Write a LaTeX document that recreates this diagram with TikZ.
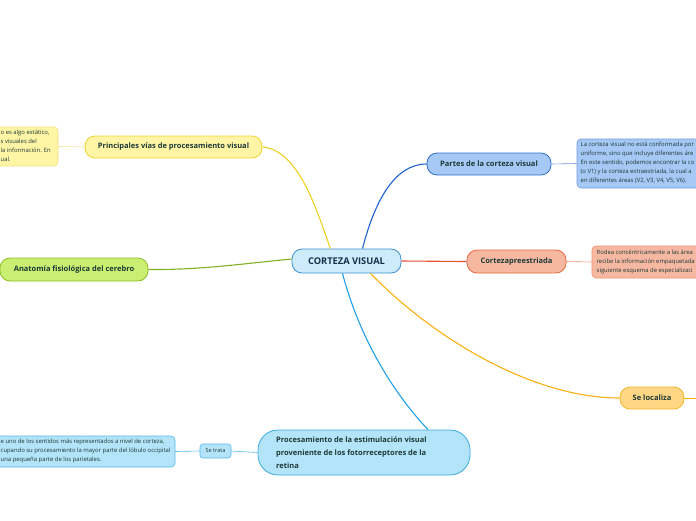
\documentclass[tikz,border=0pt]{standalone}
\usepackage{fontspec}
\setmainfont{Open Sans}
\definecolor{txt}{HTML}{1C3A36}
\definecolor{cvtxt}{HTML}{16304C}
\definecolor{cvfill}{HTML}{CDEBFA}\definecolor{cvdraw}{HTML}{3D8FD0}
\definecolor{yfill}{HTML}{FFF5A5}\definecolor{ydraw}{HTML}{EDD334}\definecolor{yline}{HTML}{F0D020}
\definecolor{bfill}{HTML}{A6C8F5}\definecolor{bdraw}{HTML}{2F6FCF}\definecolor{bline}{HTML}{2060D0}
\definecolor{rfill}{HTML}{F7B8A2}\definecolor{rdraw}{HTML}{E8683F}\definecolor{rline}{HTML}{E85030}
\definecolor{gfill}{HTML}{C9EE72}\definecolor{gdraw}{HTML}{8CBF26}\definecolor{gline}{HTML}{80B020}
\definecolor{ofill}{HTML}{FFD684}\definecolor{odraw}{HTML}{F3B52A}\definecolor{oline}{HTML}{F8B010}
\definecolor{cfill}{HTML}{B3E4F9}\definecolor{cdraw}{HTML}{3BAAE3}\definecolor{cline}{HTML}{20A0E8}
\definecolor{ynote}{HTML}{F5E080}\definecolor{bnote}{HTML}{6E9BE0}\definecolor{rnote}{HTML}{F09070}\definecolor{cnote}{HTML}{55B8EA}
\begin{document}
\begin{tikzpicture}[x=1pt,y=-1pt,
  topic/.style={draw, line width=0.8pt, rounded corners=10pt, inner sep=0pt, text=txt, font=\fontsize{7.5}{9}\selectfont\bfseries},
  note/.style={draw, line width=0.6pt, rounded corners=4pt, inner sep=0pt},
  notetext/.style={anchor=north west, align=left, inner sep=0pt, text=txt, font=\fontsize{5.9}{9}\selectfont},
  conn/.style={line width=1.1pt},
  thin/.style={line width=0.6pt}]
\useasboundingbox (0,0) rectangle (696,520);
\clip (0,0) rectangle (696,520);

% central
\node[topic, fill=cvfill, draw=cvdraw, minimum width=109pt, minimum height=24pt, text=cvtxt, font=\fontsize{9.3}{10}\selectfont\bfseries] (cv) at (346.5,261) {CORTEZA VISUAL};

% topics
\node[topic, fill=yfill, draw=ydraw, minimum width=177pt, minimum height=22pt] (pv) at (173.5,147) {Principales vías de procesamiento visual};
\node[topic, fill=bfill, draw=bdraw, minimum width=124pt, minimum height=22pt] (pc) at (489,164) {Partes de la corteza visual};
\node[topic, fill=rfill, draw=rdraw, minimum width=99pt, minimum height=23pt] (cp) at (516.5,261.5) {Cortezapreestriada};
\node[topic, fill=gfill, draw=gdraw, minimum width=148pt, minimum height=23pt] (af) at (74,269.5) {Anatomía fisiológica del cerebro};
\node[topic, fill=ofill, draw=odraw, minimum width=64pt, minimum height=22pt] (sl) at (652,398) {Se localiza};
\node[topic, fill=cfill, draw=cdraw, rounded corners=20pt, minimum width=212pt, minimum height=45pt] (pe) at (364,452.5) {};
\node[anchor=west, align=left, inner sep=0pt, text=txt, font=\fontsize{7.5}{13}\selectfont\bfseries] (pet) at (276,453) {Procesamiento de la estimulación visual\\proveniente de los fotorreceptores de la\\retina};
\node[draw=cnote, fill=cfill, line width=0.6pt, rounded corners=3pt, minimum width=31pt, minimum height=14pt, inner sep=0pt, text=txt, font=\fontsize{5.5}{6}\selectfont] (st) at (215.5,451) {Se trata};

% notes
\node[note, fill=yfill, draw=ynote, minimum width=80pt, minimum height=39pt] (yn) at (18,146.5) {};
\node[notetext] (ynt) at (0.5,129.5) {o es algo estático,\\s visuales del\\la información. En\\ual.};

\node[note, fill=bfill, draw=bnote, minimum width=140pt, minimum height=49pt] (bn) at (647,163.5) {};
\node[notetext] (bnt) at (580.5,141.5) {La corteza visual no está conformada por\\uniforme, sino que incluye diferentes áre\\En este sentido, podemos encontrar la co\\(o V1) y la corteza extraestriada, la cual a\\en diferentes áreas (V2, V3, V4, V5, V6).};

\node[note, fill=rfill, draw=rnote, minimum width=130pt, minimum height=32pt] (rn) at (657,262) {};
\node[notetext] (rnt) at (596.5,249.5) {Rodea concéntricamente a las área\\recibe la información empaquetada\\siguiente esquema de especializaci};

\node[note, fill=cfill, draw=cnote, minimum width=195pt, minimum height=31pt] (cn) at (77.5,451.5) {};
\node[notetext] (cnt) at (0.5,439) {e uno de los sentidos más representados a nivel de corteza,\\cupando su procesamiento la mayor parte del lóbulo occipital\\una pequeña parte de los parietales.};

\coordinate (slend) at (696,398);

% connectors
\draw[conn, yline] (pv.east) .. controls (300,150) and (318,215) .. ([xshift=-16pt]cv.north);
\draw[conn, bline] ([xshift=16pt]cv.north) .. controls (375,200) and (395,164) .. (pc.west);
\draw[conn, rline] (cv.east) -- (cp.west);
\draw[conn, gline] ([yshift=2pt]cv.west) .. controls (240,264) and (200,270) .. (af.east);
\draw[conn, oline] ([xshift=24pt]cv.south) .. controls (430,335) and (530,398) .. (sl.west);
\draw[conn, cline] ([xshift=-4pt]cv.south) .. controls (360,340) and (395,395) .. ([xshift=64pt]pe.north);
\draw[thin, oline] (sl.east) -- (slend);

\draw[thin, ynote] (pv.west) -- (yn.east);
\draw[thin, bnote] (pc.east) -- (bn.west);
\draw[thin, rnote] (cp.east) -- (rn.west);
\draw[thin, cnote] (pe.west) -- (st.east);
\draw[thin, cnote] (st.west) -- (cn.east);
\end{tikzpicture}
\end{document}
